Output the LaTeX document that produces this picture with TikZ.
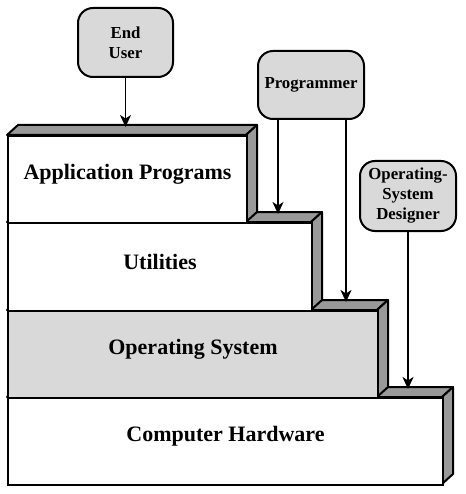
\documentclass[tikz,border=0pt]{standalone}
\usepackage{fontspec}
\setmainfont{Liberation Serif}
\usetikzlibrary{arrows.meta}
\definecolor{sidegray}{HTML}{999999}
\definecolor{lightgray}{HTML}{D9D9D9}
\tikzset{
  front/.style={draw, line width=2pt, anchor=north west, inner sep=0pt},
  face/.style={draw, line width=2pt, fill=sidegray, line join=round},
  lbl/.style={font=\bfseries\fontsize{22}{26}\selectfont, inner sep=0pt},
  actor/.style={draw, line width=2pt, fill=lightgray, rounded corners=15pt, inner sep=0pt,
    font=\bfseries\fontsize{16.8}{20}\selectfont, align=center, anchor=north west},
  arr/.style={line width=1.8pt, -{Stealth[length=12pt,width=11pt,inset=3.5pt]}}
}
\newcommand{\layer}[6]{% name, x1, y1, x2, y2, fill
  \draw[face] (#2,#3) -- ++(11,-10) -- (#4+11,#3-10) -- (#4,#3) -- cycle;
  \draw[face] (#4,#3) -- (#4+11,#3-10) -- (#4+11,#5-10) -- (#4,#5) -- cycle;
  \node[front, fill=#6, minimum width={(#4-#2)*1pt}, minimum height={(#5-#3)*1pt}] (#1) at (#2,#3) {};
}
\begin{document}
\begin{tikzpicture}[x=1pt,y=-1pt]
\useasboundingbox (0,0) rectangle (465,494);
% layers, bottom first
\layer{hw}{7}{397}{442}{484}{white}
\layer{os}{7}{310}{377}{397}{lightgray}
\layer{util}{7}{222}{311}{310}{white}
\layer{app}{7}{135}{246}{222}{white}
\node[lbl] at ([yshift=5pt]app.center) {Application Programs};
\node[lbl] at ([yshift=5pt]util.center) {Utilities};
\node[lbl] at ([yshift=5pt]os.center) {Operating System};
\node[lbl] at ([yshift=5pt]hw.center) {Computer Hardware};
% top back edges (arrow targets)
\coordinate (apptop) at (0,127);
\coordinate (utiltop) at (0,214);
\coordinate (ostop) at (0,302);
\coordinate (hwtop) at (0,389);
% actors
\node[actor, minimum width=95pt, minimum height=69pt] (eu) at (77,7) {End\\User};
\node[actor, minimum width=106pt, minimum height=68pt] (prog) at (257,50) {Programmer};
\node[actor, minimum width=96pt, minimum height=70pt] (osd) at (359,160) {Operating-\\System\\Designer};
% connectors
\draw[arr] (eu.south) -- (eu.south |- apptop);
\coordinate (p1) at ([xshift=21pt]prog.south west);
\coordinate (p2) at ([xshift=-19pt]prog.south east);
\draw[arr] (p1) -- (p1 |- utiltop);
\draw[arr] (p2) -- (p2 |- ostop);
\draw[arr] (osd.south) -- (osd.south |- hwtop);
\end{tikzpicture}
\end{document}
